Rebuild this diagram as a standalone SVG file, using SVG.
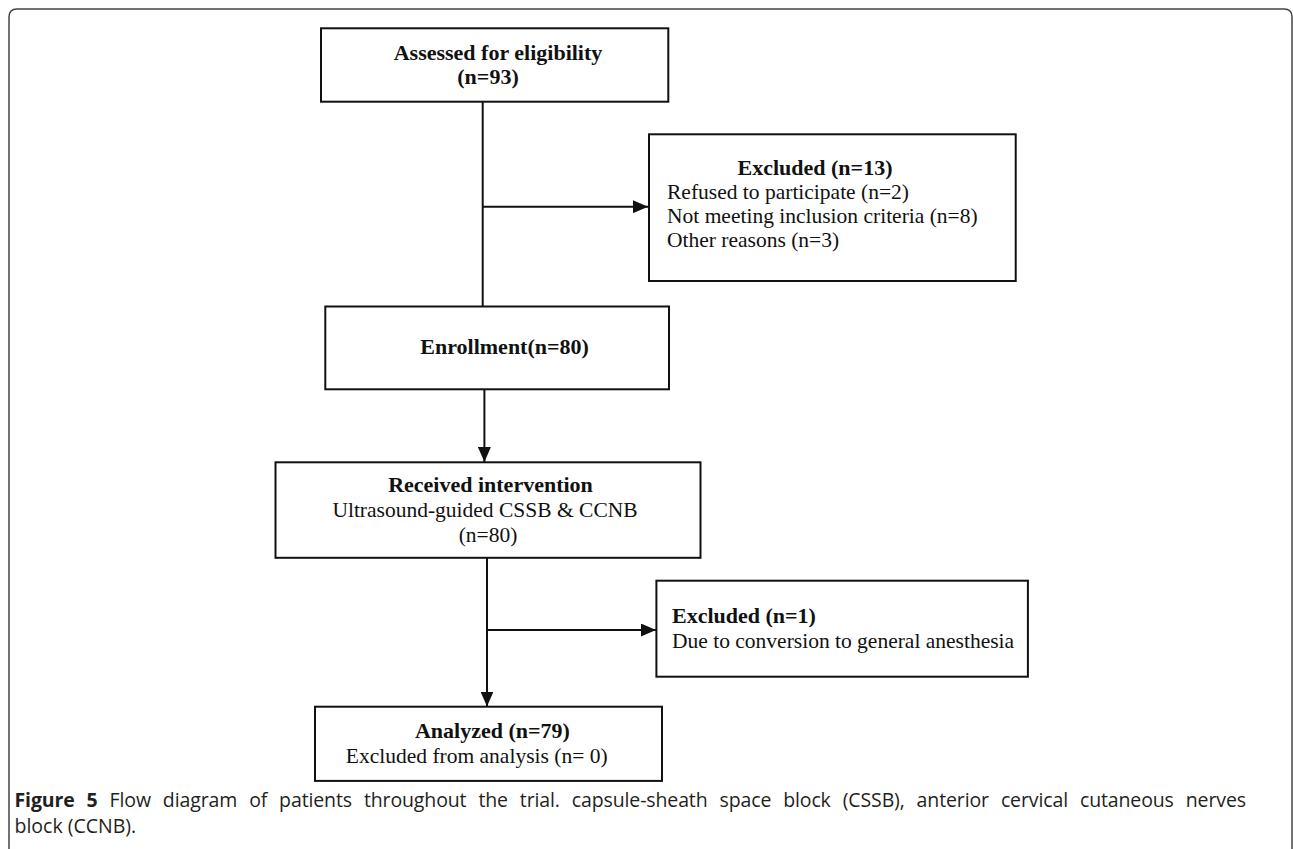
<svg xmlns="http://www.w3.org/2000/svg" width="1293" height="849" viewBox="0 0 1293 849">
<style>
.box{fill:#fff;stroke:#111;stroke-width:2}
.b{font-family:"Liberation Serif","Times New Roman",serif;font-weight:bold;font-size:22px;fill:#111}
.r{font-family:"Liberation Serif","Times New Roman",serif;font-size:21.5px;fill:#111}
.c{font-family:"Open Sans","Noto Sans",sans-serif;font-size:19.5px;fill:#231f20}
.ln{stroke:#111;stroke-width:2;fill:none}
</style>
<defs>
<marker id="ah" markerUnits="userSpaceOnUse" markerWidth="16" markerHeight="13" refX="15" refY="6.5" orient="auto">
<path d="M0,0 L15,6.5 L0,13 Z" fill="#111"/>
</marker>
</defs>
<rect width="1293" height="849" fill="#fff"/>
<path d="M9,849 V17 Q9,9 17,9 H1284 Q1292,9 1292,17 V849" fill="none" stroke="#444" stroke-width="1.5"/>
<g id="connectors">
<line class="ln" x1="482.7" y1="102" x2="482.7" y2="306.5"/>
<line class="ln" x1="482.7" y1="206.7" x2="648" y2="206.7" marker-end="url(#ah)"/>
<line class="ln" x1="484.4" y1="389.3" x2="484.4" y2="462" marker-end="url(#ah)"/>
<line class="ln" x1="487" y1="558" x2="487" y2="706.5" marker-end="url(#ah)"/>
<line class="ln" x1="487" y1="630" x2="656" y2="630" marker-end="url(#ah)"/>
</g>
<g id="assessed">
<rect class="box" x="321" y="28.3" width="347.3" height="73.4"/>
<text class="b" x="498" y="60" text-anchor="middle" font-size="21.5">Assessed for eligibility</text>
<text class="b" x="488" y="84" text-anchor="middle" font-size="21.5">(n=93)</text>
</g>
<g id="excluded13">
<rect class="box" x="649" y="134.3" width="366.7" height="146.7"/>
<text class="b" x="815" y="175" text-anchor="middle">Excluded (n=13)</text>
<text class="r" x="667" y="199">Refused to participate (n=2)</text>
<text class="r" x="667" y="223">Not meeting inclusion criteria (n=8)</text>
<text class="r" x="667" y="247">Other reasons (n=3)</text>
</g>
<g id="enrollment">
<rect class="box" x="325.3" y="306.5" width="343.7" height="82.8"/>
<text class="b" x="504.6" y="354" text-anchor="middle">Enrollment(n=80)</text>
</g>
<g id="received">
<rect class="box" x="275.5" y="462.3" width="425" height="95.5"/>
<text class="b" x="490.5" y="492" text-anchor="middle">Received intervention</text>
<text class="r" x="485" y="517" text-anchor="middle">Ultrasound-guided CSSB &amp; CCNB</text>
<text class="r" x="488" y="542" text-anchor="middle">(n=80)</text>
</g>
<g id="excluded1">
<rect class="box" x="656.4" y="580.7" width="371.5" height="96"/>
<text class="b" x="672" y="623">Excluded (n=1)</text>
<text class="r" x="672" y="648">Due to conversion to general anesthesia</text>
</g>
<g id="analyzed">
<rect class="box" x="315" y="706.7" width="347" height="74.2"/>
<text class="b" x="492.4" y="738" text-anchor="middle">Analyzed (n=79)</text>
<text class="r" x="476.7" y="763" text-anchor="middle">Excluded from analysis (n= 0)</text>
</g>
<g id="caption">
<text class="c" x="14.5" y="807" word-spacing="7" textLength="1231.5" lengthAdjust="spacing"><tspan font-weight="bold">Figure 5</tspan> Flow diagram of patients throughout the trial. capsule-sheath space block (CSSB), anterior cervical cutaneous nerves</text>
<text class="c" x="14.5" y="833">block (CCNB).</text>
</g>
</svg>
